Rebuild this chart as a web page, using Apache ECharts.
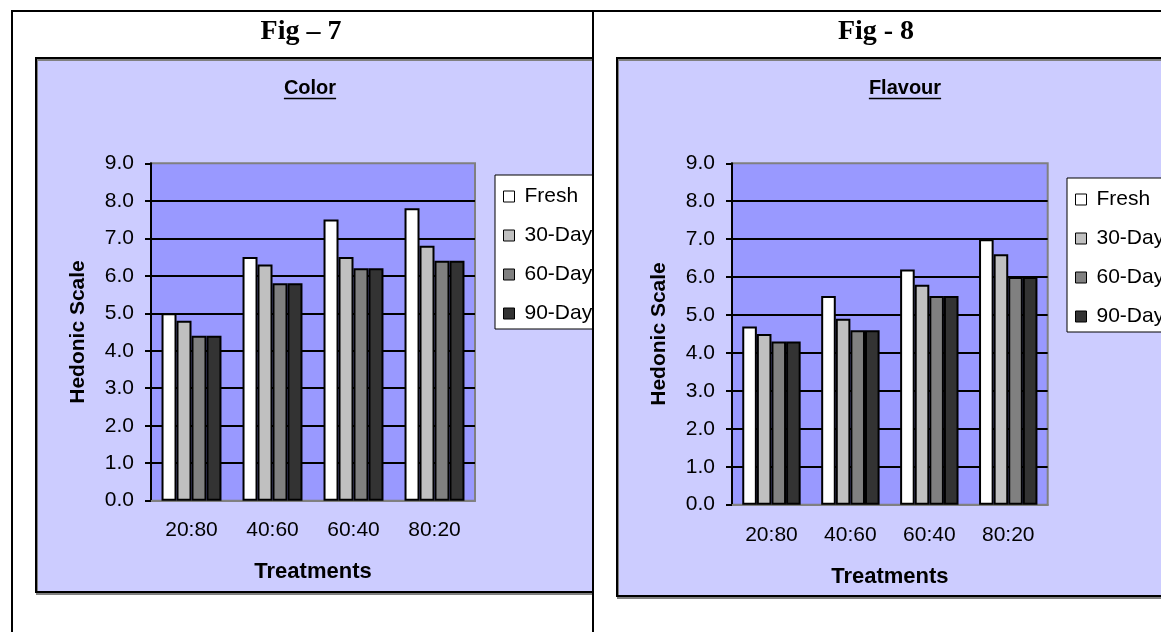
<!DOCTYPE html>
<html>
<head>
<meta charset="utf-8">
<script src="https://cdn.jsdelivr.net/npm/echarts@6/dist/echarts.min.js"></script>
<style>
  html, body { margin: 0; padding: 0; background: #fff; width: 1161px; height: 632px; overflow: hidden; position: relative; }
  .rule { position: absolute; background: #000; }
  .cell { position: absolute; overflow: hidden; }
</style>
</head>
<body>
<!-- table rules around the two figures -->
<div class="rule" style="left:11px;top:10px;width:1150px;height:2px"></div>
<div class="rule" style="left:11px;top:10px;width:2px;height:622px"></div>
<div class="rule" style="left:592px;top:10px;width:2px;height:622px"></div>
<div id="fig7" class="cell" style="left:13px;top:12px;width:579px;height:620px"></div>
<div id="fig8" class="cell" style="left:594px;top:12px;width:567px;height:620px"></div>
<script>
// Treatments (blend ratios) and storage stages
const treatments = ['20:80', '40:60', '60:40', '80:20'];
const stages = ['Fresh', '30-Day', '60-Day', '90-Day'];

// Hedonic scores for colour
const colorFresh = [5.0, 6.5, 7.5, 7.8];
const color30Day = [4.8, 6.3, 6.5, 6.8];
const color60Day = [4.4, 5.8, 6.2, 6.4];
const color90Day = [4.4, 5.8, 6.2, 6.4];

// Hedonic scores for flavour
const flavourFresh = [4.7, 5.5, 6.2, 7.0];
const flavour30Day = [4.5, 4.9, 5.8, 6.6];
const flavour60Day = [4.3, 4.6, 5.5, 6.0];
const flavour90Day = [4.3, 4.6, 5.5, 6.0];

const stageFills = ['#FFFFFF', '#C0C0C0', '#808080', '#333333'];

const SANS = '"Liberation Sans", Arial, sans-serif';
const SERIF = '"Liberation Serif", "Times New Roman", serif';

function textWidth(str, font) {
  const c = document.createElement('canvas').getContext('2d');
  c.font = font;
  return c.measureText(str).width;
}

function drawFigure(el, cfg) {
  const chart = echarts.init(el, null, { renderer: 'canvas' });
  const subFont = 'bold 20px ' + SANS;
  const subW = textWidth(cfg.subtitle, subFont);
  chart.setOption({
    animation: false,
    graphic: [
      {
        type: 'rect', z: -10, silent: true,
        shape: { x: 23, y: 46, width: 800, height: cfg.boxHeight },
        style: { fill: '#CCCCFF', stroke: '#000', lineWidth: 2,
                 shadowColor: '#808080', shadowOffsetX: 1, shadowOffsetY: 2, shadowBlur: 0 }
      },
      {
        type: 'text', silent: true,
        x: cfg.figX, y: cfg.figY,
        style: { text: cfg.figLabel, font: 'bold 28px ' + SERIF, fill: '#000',
                 textAlign: 'center', textVerticalAlign: 'middle' }
      },
      {
        type: 'text', silent: true,
        x: cfg.subX, y: cfg.subY,
        style: { text: cfg.subtitle, font: subFont, fill: '#000',
                 textAlign: 'center', textVerticalAlign: 'middle' }
      },
      {
        type: 'line', silent: true,
        shape: { x1: cfg.subX - subW / 2, y1: cfg.subY + 10.5, x2: cfg.subX + subW / 2, y2: cfg.subY + 10.5 },
        style: { stroke: '#000', lineWidth: 1.5 }
      }
    ],
    legend: {
      orient: 'vertical',
      left: cfg.legendLeft, top: cfg.legendTop,
      data: stages,
      icon: 'rect',
      itemWidth: 11, itemHeight: 11, itemGap: 18,
      padding: [11, 12, 5, 8],
      backgroundColor: '#FFFFFF',
      borderColor: '#000', borderWidth: 1,
      itemStyle: { borderColor: '#000', borderWidth: 1 },
      textStyle: { fontFamily: SANS, fontSize: 21, color: '#000', padding: [0, 0, 0, 5] }
    },
    grid: {
      left: 138, top: 151.3, width: cfg.plotWidth, height: cfg.plotHeight,
      show: true, backgroundColor: '#9999FF', borderColor: '#808080', borderWidth: 2
    },
    xAxis: {
      type: 'category',
      data: treatments,
      axisLine: { lineStyle: { color: '#808080', width: 2 } },
      axisTick: { show: false },
      axisLabel: { fontFamily: SANS, fontSize: 21, color: '#000', margin: cfg.xLabelMargin },
      name: 'Treatments', nameLocation: 'middle', nameGap: cfg.xNameGap,
      nameTextStyle: { fontFamily: SANS, fontSize: 22, fontWeight: 'bold', color: '#000' }
    },
    yAxis: {
      type: 'value', min: 0, max: 9, interval: 1,
      axisLine: { show: true, lineStyle: { color: '#000', width: 2 } },
      axisTick: { show: true, inside: false, length: 6, lineStyle: { color: '#000', width: 2 } },
      axisLabel: { fontFamily: SANS, fontSize: 21, color: '#000', margin: 17,
                   formatter: v => v.toFixed(1) },
      splitLine: { show: true, showMaxLine: false, showMinLine: false,
                   lineStyle: { color: '#000', width: 2 } },
      name: 'Hedonic Scale', nameLocation: 'middle', nameRotate: 90, nameGap: 62,
      nameTextStyle: { fontFamily: SANS, fontSize: 21, fontWeight: 'bold', color: '#000' }
    },
    series: stages.map((s, i) => ({
      name: s,
      type: 'bar',
      data: cfg.values[i],
      barGap: '0%',
      barCategoryGap: '26%',
      itemStyle: { color: stageFills[i], borderColor: '#000', borderWidth: 2 }
    }))
  });
  return chart;
}

drawFigure(document.getElementById('fig7'), {
  figLabel: 'Fig \u2013 7', figX: 288, figY: 20,
  subtitle: 'Color', subX: 297, subY: 76,
  boxHeight: 534,
  plotWidth: 324, plotHeight: 337.4,
  legendLeft: 482, legendTop: 163,
  xLabelMargin: 19, xNameGap: 60,
  values: [colorFresh, color30Day, color60Day, color90Day]
});

drawFigure(document.getElementById('fig8'), {
  figLabel: 'Fig - 8', figX: 282, figY: 20,
  subtitle: 'Flavour', subX: 311, subY: 76,
  boxHeight: 538,
  plotWidth: 315.7, plotHeight: 341.4,
  legendLeft: 473, legendTop: 166,
  xLabelMargin: 20, xNameGap: 61,
  values: [flavourFresh, flavour30Day, flavour60Day, flavour90Day]
});
</script>
</body>
</html>
